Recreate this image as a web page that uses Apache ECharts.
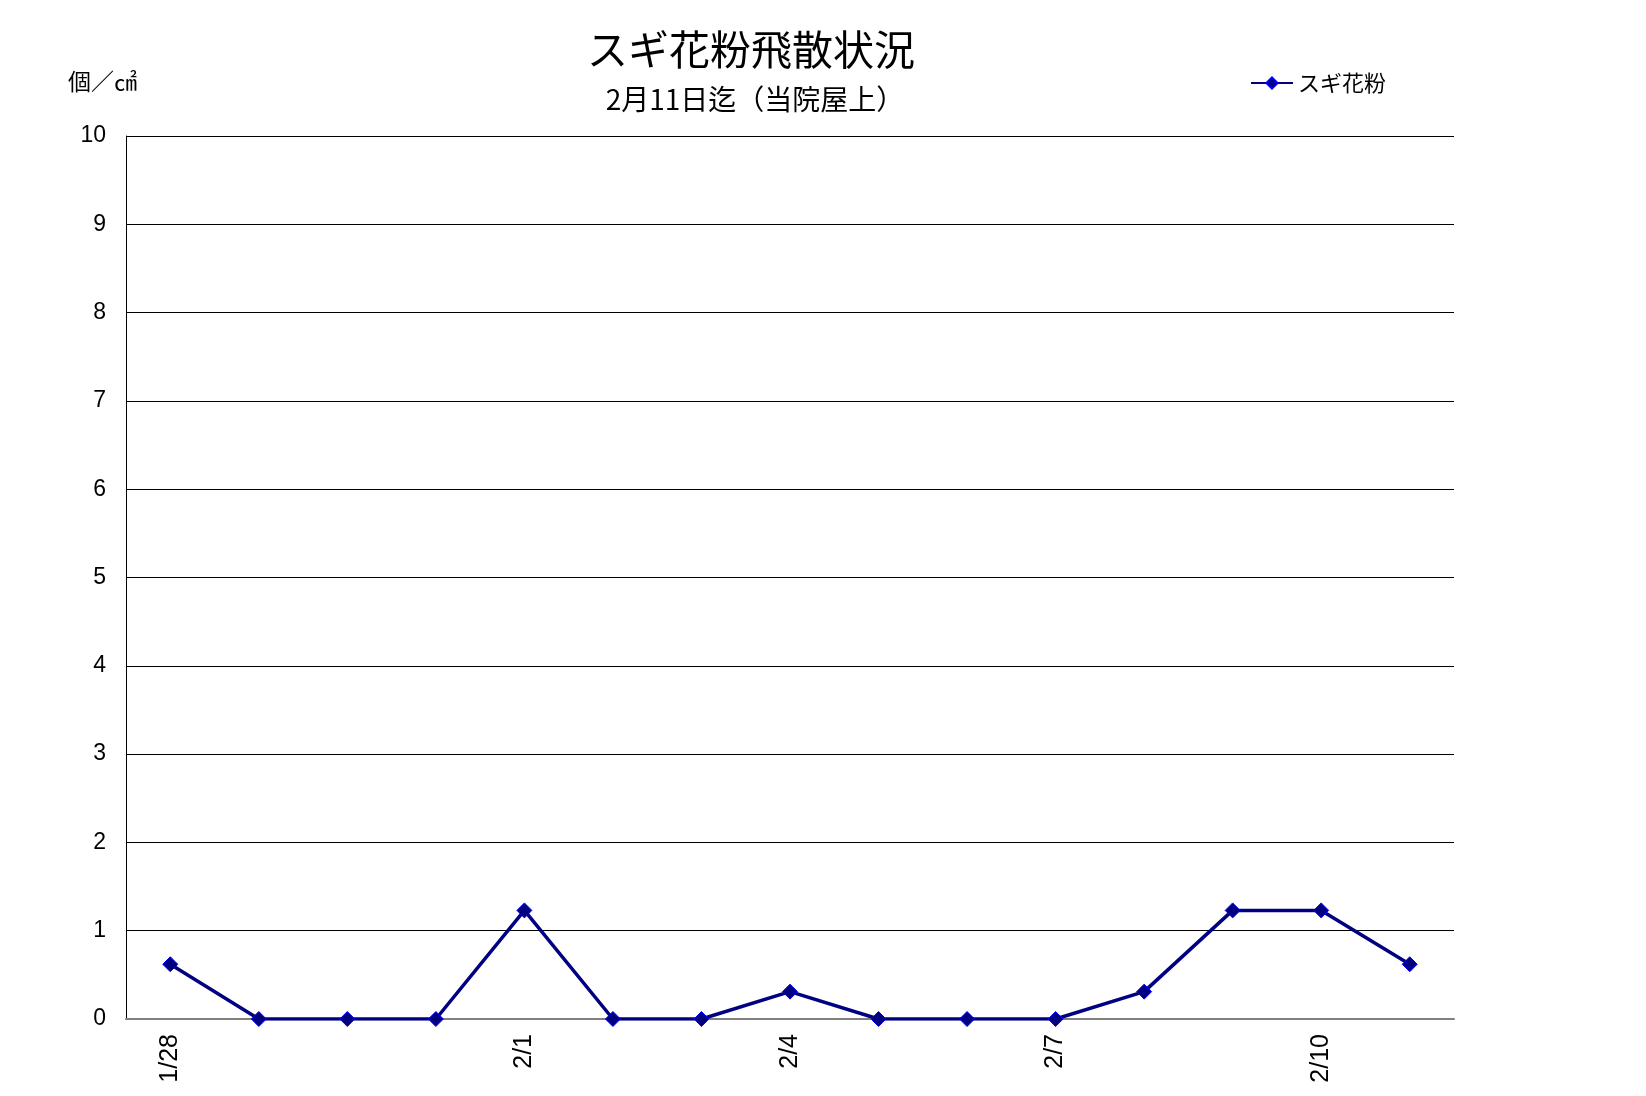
<!DOCTYPE html>
<html>
<head>
<meta charset="utf-8">
<script src="https://cdn.jsdelivr.net/npm/echarts@6/dist/echarts.min.js"></script>
<style>
html,body{margin:0;padding:0;background:#fff;}
#chart{width:1646px;height:1096px;}
</style>
</head>
<body>
<div id="chart"></div>
<script>
const categories = ['1/28','1/29','1/30','1/31','2/1','2/2','2/3','2/4','2/5','2/6','2/7','2/8','2/9','2/10','2/11'];
const sugiValues = [0.62, 0, 0, 0, 1.23, 0, 0, 0.31, 0, 0, 0, 0.31, 1.23, 1.23, 0.62];
const shownLabels = ['1/28','2/1','2/4','2/7','2/10'];
const yTicks = [0,1,2,3,4,5,6,7,8,9,10];
const seriesName = 'スギ花粉';

const jp = '"Noto Sans CJK JP", sans-serif';
const narrow = '"Liberation Sans Narrow", "Liberation Sans", Arial, sans-serif';

const chart = echarts.init(document.getElementById('chart'));
chart.setOption({
  animation: false,
  backgroundColor: '#fff',
  title: [
    {text: 'スギ花粉飛散状況', left: 746, top: 24, textAlign: 'center',
     textStyle: {fontFamily: jp, fontSize: 41, fontWeight: 'normal', color: '#000'}},
    {text: '2月11日迄（当院屋上）', left: 750, top: 80, textAlign: 'center',
     textStyle: {fontFamily: jp, fontSize: 28, fontWeight: 'normal', color: '#000'}},
    {text: '個／㎠', left: 63, top: 65,
     textStyle: {fontFamily: jp, fontSize: 23, fontWeight: 'normal', color: '#000'}}
  ],
  legend: {
    data: [seriesName], left: 1245, top: 67, itemWidth: 42, itemHeight: 14, itemGap: 4,
    textStyle: {fontFamily: jp, fontSize: 22, color: '#000'}
  },
  grid: {left: 126, top: 136, right: 192, bottom: 77, containLabel: false},
  xAxis: {
    type: 'category', data: categories, boundaryGap: true,
    axisLine: {lineStyle: {color: '#808080', width: 2}},
    axisTick: {show: false},
    axisLabel: {
      rotate: 90, margin: 15, color: '#000', fontFamily: narrow, fontSize: 25,
      interval: (i, v) => shownLabels.includes(v)
    }
  },
  yAxis: {
    type: 'value', min: yTicks[0], max: yTicks[yTicks.length - 1], interval: 1,
    axisLine: {show: true, lineStyle: {color: '#000', width: 1}},
    axisTick: {show: false},
    splitLine: {lineStyle: {color: '#000', width: 1}},
    axisLabel: {margin: 20, color: '#000', fontFamily: narrow, fontSize: 23}
  },
  series: [{
    name: seriesName, type: 'line', data: sugiValues,
    symbol: 'diamond', symbolSize: 15,
    lineStyle: {color: '#000080', width: 3.5},
    itemStyle: {color: '#000080', borderColor: '#0000ff', borderWidth: 1}
  }]
});
</script>
</body>
</html>
